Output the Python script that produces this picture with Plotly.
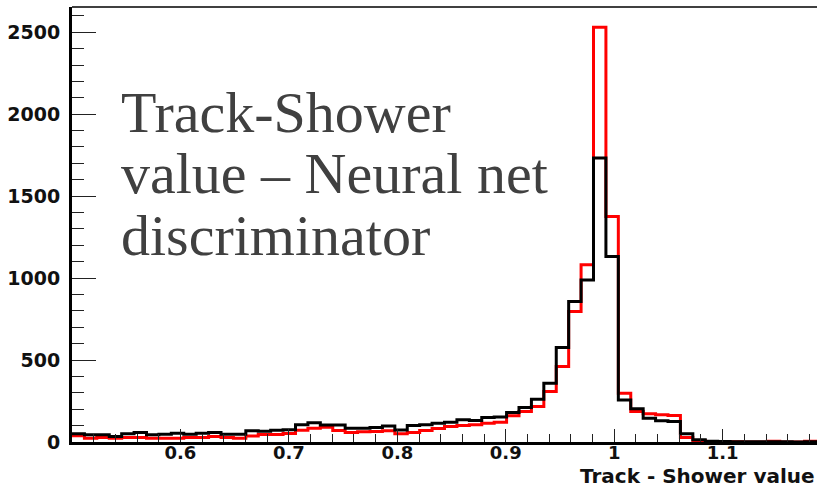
import plotly.graph_objects as go

# Histogram binning: 60 bins starting at 0.5
bin_low = 0.5
bin_width = 0.01145
n_bins = 60

# Bin contents (red: first sample, black: second sample)
counts_red = [
    38, 23, 27, 23, 27, 27, 23, 23, 23, 27,
    27, 33, 27, 23, 37, 45, 46, 52, 72, 84,
    90, 70, 58, 62, 64, 68, 50, 58, 70, 82,
    95, 101, 105, 115, 120, 160, 186, 217, 308, 461,
    796, 1081, 2530, 1376, 298, 186, 172, 166, 162, 27,
    9, 2, 1, 1, 0, 0, 5, 0, 0, 5,
]
counts_black = [
    50, 44, 44, 34, 50, 58, 44, 47, 54, 47,
    54, 58, 47, 47, 68, 66, 72, 74, 105, 118,
    103, 103, 84, 84, 89, 97, 73, 100, 106, 115,
    121, 135, 131, 150, 152, 180, 210, 261, 359, 577,
    857, 988, 1733, 1132, 257, 203, 145, 129, 125, 50,
    13, 4, 3, 2, 2, 1, 1, 1, 0, 1,
]

x_tick_vals = [0.6, 0.7, 0.8, 0.9, 1.0, 1.1]
x_tick_text = ["0.6", "0.7", "0.8", "0.9", "1", "1.1"]
y_tick_vals = [0, 500, 1000, 1500, 2000, 2500]
y_tick_text = ["0", "500", "1000", "1500", "2000", "2500"]

x_title = "Track - Shower value"
note_lines = ["Track-Shower", "value \u2013 Neural net", "discriminator"]

edges = [bin_low + i * bin_width for i in range(n_bins + 1)]


def step_xy(counts):
    xs = edges[:]
    ys = list(counts) + [counts[-1]]
    return xs, ys


W, H = 817, 487
ML, MR, MT, MB = 72, 0, 7, 45
plot_w = W - ML - MR
plot_h = H - MT - MB


def px_x(px):
    return (px - ML) / plot_w


def px_y(py):
    return 1 - (py - MT) / plot_h


fig = go.Figure()
for counts, color in ((counts_red, "#ff0000"), (counts_black, "#000000")):
    xs, ys = step_xy(counts)
    fig.add_trace(go.Scatter(
        x=xs, y=ys, mode="lines", line=dict(shape="hv", color=color, width=3),
        hoverinfo="skip", showlegend=False,
    ))

fig.update_xaxes(
    range=[bin_low, edges[-1]],
    tickmode="array", tickvals=x_tick_vals, ticktext=x_tick_text,
    ticks="inside", ticklen=13, tickwidth=1, tickcolor="#222222",
    minor=dict(ticks="inside", ticklen=8, tickwidth=1, tickcolor="#222222",
               tickmode="linear", tick0=bin_low, dtick=0.02),
    showline=True, linecolor="#000000", linewidth=3,
    showgrid=False, zeroline=False,
    tickfont=dict(family="DejaVu Sans", size=18, color="#111111", weight="bold"),
    ticklabelstandoff=-8,
)
fig.update_yaxes(
    range=[0, 2654],
    tickmode="array", tickvals=y_tick_vals, ticktext=y_tick_text,
    ticks="inside", ticklen=24, tickwidth=1, tickcolor="#222222",
    minor=dict(ticks="inside", ticklen=12, tickwidth=1, tickcolor="#222222",
               tickmode="linear", tick0=0, dtick=100),
    showline=True, linecolor="#000000", linewidth=3,
    showgrid=False, zeroline=False,
    tickfont=dict(family="DejaVu Sans", size=19, color="#111111", weight="bold"),
    ticklabelstandoff=5,
)

# frame line along the top
fig.add_shape(type="line", xref="paper", yref="paper", x0=0, x1=1, y0=1, y1=1,
              line=dict(color="#000000", width=1.5))

annotations = [dict(
    text=x_title, xref="paper", yref="paper", x=1, y=px_y(476),
    xanchor="right", yanchor="middle", showarrow=False,
    font=dict(family="DejaVu Sans", size=20, color="#111111", weight="bold"),
)]
for i, line in enumerate(note_lines):
    annotations.append(dict(
        text=line, xref="paper", yref="paper", x=px_x(119), y=px_y(112 + 61.5 * i),
        xanchor="left", yanchor="middle", showarrow=False,
        font=dict(family="Liberation Serif", size=58, color="#404040"),
    ))
fig.update_layout(
    width=W, height=H, margin=dict(l=ML, r=MR, t=MT, b=MB),
    paper_bgcolor="white", plot_bgcolor="white",
    annotations=annotations,
)

fig.write_html("out.html")
